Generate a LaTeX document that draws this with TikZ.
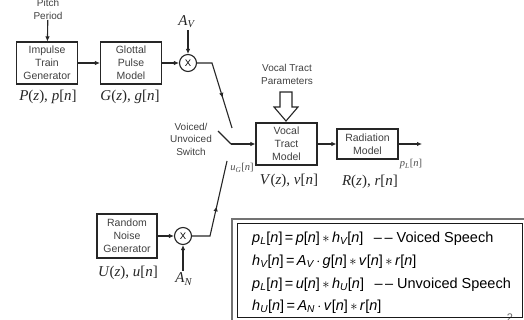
\documentclass[tikz,border=0pt]{standalone}
\usepackage{fontspec}
\setmainfont{Liberation Sans}
\newfontfamily\tms{Liberation Serif}
\usetikzlibrary{arrows.meta,decorations.markings}

% italic variable and italic subscript
\newcommand\iv[1]{\textit{#1}}
\newcommand\sbs[1]{\textsubscript{\itshape #1}}

\begin{document}
\begin{tikzpicture}[x=1pt,y=-1pt,
  wire/.style={draw=black!85, line width=1.1pt},
  arr/.style={wire, -{Latex[length=5pt,width=4.5pt]}},
  blk/.style={draw=black!85, line width=1.1pt, minimum width=61pt, minimum height=42pt,
    inner sep=0pt, align=center, font=\fontsize{10.5}{13}\selectfont, text=black!75},
  mul/.style={circle, draw=black!85, line width=1.1pt, minimum size=17pt, inner sep=0pt,
    font=\fontsize{9.5}{10}\selectfont},
  lbl/.style={font=\tms\fontsize{15}{16}\selectfont, text=black!85, inner sep=0pt},
  small/.style={font=\tms\fontsize{10.5}{11}\selectfont, text=black!70, inner sep=0pt},
  note/.style={align=center, font=\fontsize{10}{12.5}\selectfont, text=black!75, inner sep=0pt},
  eq/.style={anchor=base west, inner sep=0pt, font=\fontsize{14.5}{16}\selectfont},
  midarr/.style={postaction={decorate}, decoration={markings,
    mark=at position #1 with {\arrow{Latex[length=5pt,width=4.5pt]}}}}
]
\useasboundingbox (0,0) rectangle (524,320);
\clip (0,0) rectangle (524,320);

% ---- voiced branch ----
\node[note, font=\fontsize{10}{13}\selectfont] (pp) at (48,9.5) {Pitch\\Period};
\node[blk] (imp) at (47,63) {Impulse\\Train\\Generator};
\node[lbl] (impl) at (48,97) {\iv{P}(\iv{z}), \iv{p}[\iv{n}]};
\node[blk] (glot) at (131,63) {Glottal\\Pulse\\Model};
\node[lbl] (glotl) at (130,97) {\iv{G}(\iv{z}), \iv{g}[\iv{n}]};
\node[mul] (mv) at (188,63) {X};
\node[lbl] (av) at (187,22) {\iv{A}\textsubscript{\iv{V}}};

\draw[arr] (pp) -- (imp);
\draw[arr] (imp) -- (glot);
\draw[arr] (glot) -- (mv);
\draw[arr] (mv |- av.south) ++(0,2) -- (mv.north);

\coordinate (vb) at (212,63);
\coordinate (ve) at (232,128);
\draw[wire, midarr=0.62] (mv.east) -- (vb) -- (ve);

% ---- switch ----
\node[note] (sw) at (191,139) {Voiced/\\Unvoiced\\Switch};
\coordinate (swA) at (218,131);
\coordinate (swB) at (231,144);

% ---- vocal tract and radiation ----
\node[blk] (vt) at (286.5,144) {Vocal\\Tract\\Model};
\node[lbl] (vtl) at (289,181) {\iv{V}(\iv{z}), \iv{v}[\iv{n}]};
\node[note, font=\fontsize{10}{13}\selectfont] (vtp) at (287,74.5) {Vocal Tract\\Parameters};
\draw[line width=1.1pt, draw=black!85, fill=white]
  (280,92) -- (292,92) -- (292,107) -- (298,107) -- (286,121)
  -- (274,107) -- (280,107) -- cycle;

\node[blk, minimum height=30pt] (rad) at (367.5,144) {Radiation\\Model};
\node[lbl] (radl) at (370,182) {\iv{R}(\iv{z}), \iv{r}[\iv{n}]};
\coordinate (out) at (422,144);
\node[small] (pl) at (411,164) {\iv{p}\textsubscript{\iv{L}}[\iv{n}]};
\node[small] (ug) at (242,168) {\iv{u}\textsubscript{\iv{G}}[\iv{n}]};

\draw[wire] (swA) -- (swB);
\draw[arr] (swB) -- (vt.west);
\draw[arr] (vt) -- (rad);
\draw[arr] (rad) -- (out);

% ---- unvoiced branch ----
\node[blk, minimum width=60pt, minimum height=44pt] (rng) at (127,236) {Random\\Noise\\Generator};
\node[lbl] (rngl) at (128,273) {\iv{U}(\iv{z}), \iv{u}[\iv{n}]};
\node[mul] (mn) at (183,236) {X};
\node[lbl] (an) at (184,279) {\iv{A}\textsubscript{\iv{N}}};

\draw[arr] (rng) -- (mn);
\draw[arr] (mn |- an.north) ++(0,-2) -- (mn.south);

\coordinate (nb) at (210,236);
\coordinate (ne) at (227,161);
\draw[wire, midarr=0.51] (mn.east) -- (nb) -- (ne);

% ---- equations ----
\node[font=\fontsize{11}{12}\selectfont, text=black!60, anchor=north, inner sep=0pt] (pg) at (510,314) {2};
\draw[line width=2.2pt, draw=black!55] (232,219) rectangle (530,324);
\draw[line width=0.9pt, draw=black!90] (237,223) rectangle (522,317);

\node[eq] (eq1) at (252,242) {\iv{p}\sbs{L}[\iv{n}]\,=\,\iv{p}[\iv{n}]\,$\ast$\,\iv{h}\sbs{V}[\iv{n}]\ \ \,–\hspace{2.5pt}–\ Voiced Speech};
\node[eq] (eq2) at (252,265) {\iv{h}\sbs{V}[\iv{n}]\,=\,\iv{A}\sbs{V}\,$\cdot$\,\iv{g}[\iv{n}]\,$\ast$\,\iv{v}[\iv{n}]\,$\ast$\,\iv{r}[\iv{n}]};
\node[eq] (eq3) at (252,288) {\iv{p}\sbs{L}[\iv{n}]\,=\,\iv{u}[\iv{n}]\,$\ast$\,\iv{h}\sbs{U}[\iv{n}]\ \ \,–\hspace{2.5pt}–\ Unvoiced Speech};
\node[eq] (eq4) at (252,310) {\iv{h}\sbs{U}[\iv{n}]\,=\,\iv{A}\sbs{N}\,$\cdot$\,\iv{v}[\iv{n}]\,$\ast$\,\iv{r}[\iv{n}]};
\end{tikzpicture}
\end{document}
